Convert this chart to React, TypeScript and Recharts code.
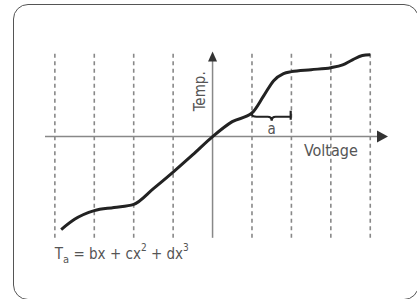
import { LineChart, Line, XAxis, YAxis, ReferenceLine, ReferenceDot } from 'recharts';

// voltage in grid units, temperature in the same units
const voltage = [-3.84, -3.5, -3.0, -2.5, -2.0, -1.5, -1.0, -0.5, 0, 0.5, 1.0, 1.3, 1.55, 1.8, 2.0, 2.5, 3.0, 3.3, 3.55, 3.8, 4.0];
const temperature = [-2.36, -2.1, -1.88, -1.8, -1.72, -1.32, -0.9, -0.46, 0, 0.38, 0.6, 1.04, 1.42, 1.6, 1.65, 1.7, 1.75, 1.82, 1.95, 2.06, 2.08];
const gridLines = [-4, -3, -2, -1, 1, 2, 3, 4];

const data = voltage.map((v, i) => ({ v, t: temperature[i] }));

const FONT = '"Liberation Sans Narrow", "DejaVu Sans Condensed", Arial, sans-serif';

export default function App() {
    return (
        <div style={{ position: 'absolute', left: 0, top: 0, width: 417, height: 299, overflow: 'hidden', background: '#fff' }}>
            {/* frame */}
            <div style={{
                position: 'absolute', left: 13, top: 4, width: 404, height: 294,
                border: '1.5px solid #555', borderRadius: 15
            }} />
            <LineChart
                width={417}
                height={299}
                data={data}
                margin={{ top: 48, right: 29, left: 45, bottom: 60 }}
                style={{ position: 'absolute', left: 0, top: 0 }}
            >
                <XAxis dataKey="v" type="number" domain={[-4.25, 4.45]} hide />
                <YAxis type="number" domain={[-2.6, 2.25]} hide />

                {gridLines.map((x) => (
                    <ReferenceLine
                        key={x}
                        segment={[{ x, y: -2.57 }, { x, y: 2.16 }]}
                        stroke="#888"
                        strokeWidth={1.6}
                        strokeDasharray="4 3.5"
                        ifOverflow="visible"
                    />
                ))}

                {/* axes */}
                <ReferenceLine segment={[{ x: -4.25, y: 0 }, { x: 4.2, y: 0 }]} stroke="#888" strokeWidth={1.5} ifOverflow="visible" />
                <ReferenceLine segment={[{ x: 0, y: -2.57 }, { x: 0, y: 1.95 }]} stroke="#888" strokeWidth={1.5} ifOverflow="visible" />
                <ReferenceDot
                    x={4.45}
                    y={0}
                    ifOverflow="visible"
                    shape={(p: any) => <path d={`M${p.cx},${p.cy} L${p.cx - 11},${p.cy - 6} L${p.cx - 11},${p.cy + 6} Z`} fill="#333" />}
                />
                <ReferenceDot
                    x={0}
                    y={2.16}
                    ifOverflow="visible"
                    shape={(p: any) => <path d={`M${p.cx},${p.cy} L${p.cx - 4.5},${p.cy + 10} L${p.cx + 4.5},${p.cy + 10} Z`} fill="#333" />}
                />

                <Line
                    dataKey="t"
                    type="monotone"
                    stroke="#222"
                    strokeWidth={3}
                    dot={false}
                    isAnimationActive={false}
                />

                {/* brace "a" between two grid lines */}
                <ReferenceDot
                    x={1.5}
                    y={0.58}
                    ifOverflow="visible"
                    shape={(p: any) => (
                        <g>
                            <path
                                d={`M${p.cx - 20},${p.cy} Q${p.cx - 20},${p.cy + 3} ${p.cx - 15},${p.cy + 3} L${p.cx - 4},${p.cy + 3} Q${p.cx},${p.cy + 3} ${p.cx},${p.cy + 7} Q${p.cx},${p.cy + 3} ${p.cx + 4},${p.cy + 3} L${p.cx + 19},${p.cy + 3} M${p.cx + 19},${p.cy - 3} L${p.cx + 19},${p.cy + 6}`}
                                fill="none"
                                stroke="#222"
                                strokeWidth={2.2}
                            />
                            <text x={p.cx} y={p.cy + 20} textAnchor="middle" fontFamily={FONT} fontSize={15} fill="#555">a</text>
                        </g>
                    )}
                />

                <ReferenceDot
                    x={-0.2}
                    y={1.15}
                    ifOverflow="visible"
                    shape={(p: any) => (
                        <text x={p.cx} y={p.cy} transform={`rotate(-90 ${p.cx} ${p.cy})`} textAnchor="middle" fontFamily={FONT} fontSize={15} fill="#555">Temp.</text>
                    )}
                />
                <ReferenceDot
                    x={3.0}
                    y={-0.5}
                    ifOverflow="visible"
                    shape={(p: any) => (
                        <text x={p.cx} y={p.cy} textAnchor="middle" fontFamily={FONT} fontSize={16} fill="#555">Voltage</text>
                    )}
                />
                <ReferenceDot
                    x={-4}
                    y={-3.1}
                    ifOverflow="visible"
                    shape={(p: any) => (
                        <text x={p.cx} y={p.cy} fontFamily={FONT} fontSize={15} fill="#555">
                            T<tspan fontSize={11} dy={4}>a</tspan>
                            <tspan dy={-4}> = bx + cx</tspan>
                            <tspan fontSize={10} dy={-8}>2</tspan>
                            <tspan dy={8}> + dx</tspan>
                            <tspan fontSize={10} dy={-8}>3</tspan>
                        </text>
                    )}
                />
            </LineChart>
        </div>
    );
}
